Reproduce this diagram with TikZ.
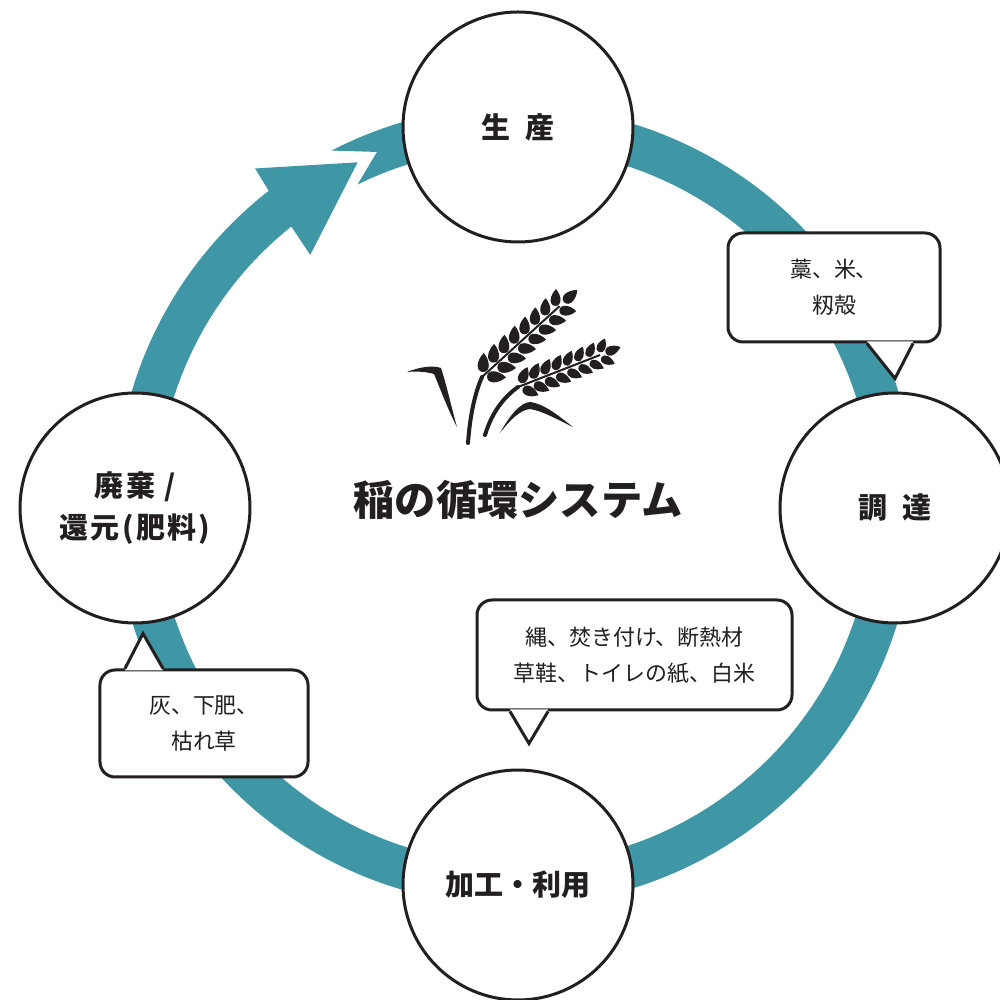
\documentclass[tikz,border=0pt]{standalone}
\usepackage{fontspec}
\newfontfamily\jp{Noto Sans CJK JP}
\definecolor{ringteal}{RGB}{63,151,165}
\definecolor{ink}{RGB}{35,31,32}

% one grain of the ear, base at (0,0), tip at (1,0)
\tikzset{grain/.pic={\fill[ink] (0,0) .. controls (0.03,0.42) and (0.62,0.36) .. (1,0) .. controls (0.62,-0.36) and (0.03,-0.42) .. (0,0);}}

\begin{document}
\begin{tikzpicture}[x=0.2mm, y=0.2mm,
    stage/.style={circle, draw=ink, line width=0.6mm, fill=white,
                  minimum size=46mm, inner sep=0pt, align=center, text=ink,
                  font=\jp\bfseries\fontsize{16.5}{24}\selectfont},
    bubble/.style={rectangle, rounded corners=3mm, draw=ink, line width=0.6mm,
                   fill=white, align=center, text=ink,
                   font=\jp\fontsize{12.5}{20.5}\selectfont},
    tail/.style={draw=ink, line width=0.6mm, line join=miter},
    stem/.style={draw=ink, line width=0.8mm, line cap=round},
  ]
  \clip (0,0) rectangle (1000,1000);

  % ring with the arrow head
  \begin{scope}[shift={(515,494)}]
    \fill[ringteal] (117.3:400) arc[start angle=117.3, end angle=-232, radius=400]
      -- (127.6:426) -- (114.6:378) -- (129.2:324) -- (-231.33:358)
      arc[start angle=-231.33, end angle=116.1, radius=358] -- (111.3:380) -- cycle;
  \end{scope}

  % stages
  \node[stage] (prod) at (518,873) {生\hspace{.55em}産};
  \node[stage] (proc) at (895,492) {調\hspace{.55em}達};
  \node[stage] (use) at (518,115) {加工・利用};
  \node[stage] (ret) at (135,492) {{\addfontfeatures{LetterSpace=10}廃棄 /}\\{\addfontfeatures{LetterSpace=8}還元(肥料)}};

  % speech bubbles
  \node[bubble, minimum width=42.4mm, minimum height=21.8mm] (matb) at (834,712.5) {藁、米、\\籾殻};
  \fill[white] ([shift={(33,2)}]matb.south) -- ([shift={(61,-35)}]matb.south) -- ([shift={(79,2)}]matb.south) -- cycle;
  \draw[tail] ([shift={(33,0)}]matb.south) -- ([shift={(61,-35)}]matb.south) -- ([shift={(79,0)}]matb.south);

  \node[bubble, minimum width=63mm, minimum height=22mm] (useb) at (634.5,345) {縄、焚き付け、断熱材\\草鞋、トイレの紙、白米};
  \fill[white] ([shift={(-124.5,2)}]useb.south) -- ([shift={(-105.5,-32)}]useb.south) -- ([shift={(-86.5,2)}]useb.south) -- cycle;
  \draw[tail] ([shift={(-124.5,0)}]useb.south) -- ([shift={(-105.5,-32)}]useb.south) -- ([shift={(-86.5,0)}]useb.south);

  \node[bubble, minimum width=41.6mm, minimum height=21.4mm] (retb) at (204,276.5) {灰、下肥、\\枯れ草};
  \fill[white] ([shift={(-79,-2)}]retb.north) -- ([shift={(-61,35)}]retb.north) -- ([shift={(-41,-2)}]retb.north) -- cycle;
  \draw[tail] ([shift={(-79,0)}]retb.north) -- ([shift={(-61,35)}]retb.north) -- ([shift={(-41,0)}]retb.north);

  % rice plant
  \coordinate (ear1) at (482,623);
  \coordinate (ear2) at (518,613);
  \draw[stem] (468,557) .. controls (470,585) and (475,607) .. (ear1);
  \draw[stem] (485,565) .. controls (492,588) and (504,603) .. (ear2);
  \draw[ink, line width=0.4mm] (ear1) -- ++(42.4:105);
  \draw[ink, line width=0.4mm] (ear2) -- ++(21.3:88);
  % leaves
  \fill[ink] (407,628) .. controls (420,633) and (432,635) .. (441,632)
    .. controls (448,610) and (452,590) .. (457,573)
    .. controls (448,590) and (440,612) .. (434,626)
    .. controls (427,628) and (418,629) .. (407,628);
  \fill[ink] (500,567) .. controls (510,585) and (520,597) .. (530,598)
    .. controls (545,596) and (560,583) .. (573,573)
    .. controls (558,580) and (543,589) .. (530,591)
    .. controls (520,590) and (510,580) .. (500,567);
  % grains
  \foreach \i in {0,...,7}{
    \pgfmathsetmacro\d{4+14*\i}
    \pgfmathsetmacro\s{19-0.3*\i}
    \pic[shift={(132.4:3)}, rotate=87.4, scale=\s] at ([shift={(42.4:\d)}]ear1) {grain};
    \pic[shift={(-47.6:3)}, rotate=-2.6, scale=\s] at ([shift={(42.4:\d)}]ear1) {grain};
  }
  \pic[rotate=42.4, scale=18] at ([shift={(42.4:111)}]ear1) {grain};
  \foreach \i in {0,...,7}{
    \pgfmathsetmacro\d{4+12*\i}
    \pgfmathsetmacro\s{17-0.3*\i}
    \pic[shift={(111.3:3)}, rotate=66.3, scale=\s] at ([shift={(21.3:\d)}]ear2) {grain};
    \pic[shift={(-68.7:3)}, rotate=-23.7, scale=\s] at ([shift={(21.3:\d)}]ear2) {grain};
  }
  \pic[rotate=21.3, scale=16] at ([shift={(21.3:94)}]ear2) {grain};

  \node[text=ink, font=\jp\bfseries\fontsize{23.5}{28}\selectfont] (title) at (518,500) {稲の循環システム};
\end{tikzpicture}
\end{document}
